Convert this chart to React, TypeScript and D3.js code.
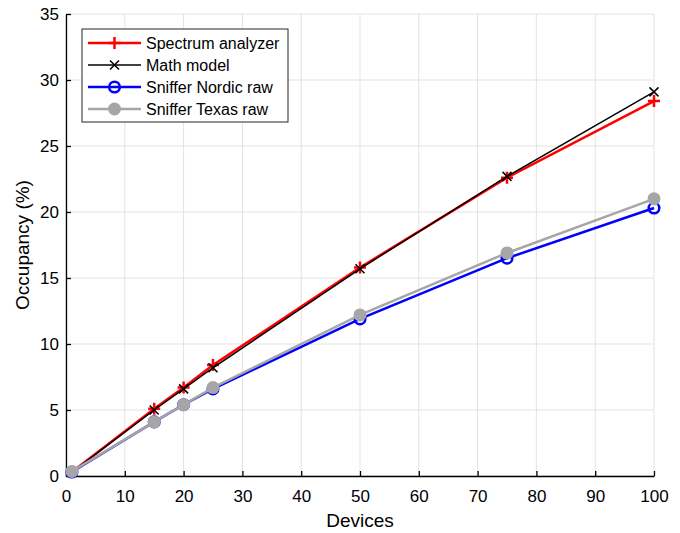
import { useEffect, useRef } from "react";
import * as d3 from "d3";

const devices = [1, 15, 20, 25, 50, 75, 100];
const spectrum = [0.3, 5.1, 6.7, 8.4, 15.8, 22.6, 28.4];
const mathModel = [0.3, 5.0, 6.6, 8.2, 15.7, 22.7, 29.1];
const nordic = [0.3, 4.1, 5.4, 6.6, 11.9, 16.5, 20.3];
const texas = [0.35, 4.1, 5.4, 6.7, 12.2, 16.9, 21.0];
const xTicks = [0, 10, 20, 30, 40, 50, 60, 70, 80, 90, 100];
const yTicks = [0, 5, 10, 15, 20, 25, 30, 35];

const series = [
  { name: "Spectrum analyzer", values: spectrum, color: "#ff0000", width: 2.5, marker: "plus" },
  { name: "Math model", values: mathModel, color: "#000000", width: 1.5, marker: "cross" },
  { name: "Sniffer Nordic raw", values: nordic, color: "#0000ff", width: 2.5, marker: "open" },
  { name: "Sniffer Texas raw", values: texas, color: "#a6a6a6", width: 2.5, marker: "filled" },
];

const W = 680, H = 533;
const m = { left: 66, right: 26, top: 14, bottom: 57 };

export default function App() {
  const ref = useRef<SVGSVGElement>(null);

  useEffect(() => {
    const svg = d3.select(ref.current);
    svg.selectAll("*").remove();
    const x = d3.scaleLinear().domain([0, 100]).range([m.left, W - m.right]);
    const y = d3.scaleLinear().domain([0, 35]).range([H - m.bottom, m.top]);
    const font = "Liberation Sans, Arial, sans-serif";

    svg.append("rect").attr("width", W).attr("height", H).attr("fill", "#fff");

    // grid
    const grid = svg.append("g").attr("stroke", "#e3e3e3").attr("stroke-width", 1);
    xTicks.forEach(t => grid.append("line").attr("x1", x(t)).attr("x2", x(t)).attr("y1", y(0)).attr("y2", y(35)));
    yTicks.forEach(t => grid.append("line").attr("x1", x(0)).attr("x2", x(100)).attr("y1", y(t)).attr("y2", y(t)));

    // axes
    const ax = svg.append("g").attr("transform", `translate(0,${y(0)})`)
      .call(d3.axisBottom(x).tickValues(xTicks).tickSizeInner(-5).tickSizeOuter(0).tickPadding(14));
    const ay = svg.append("g").attr("transform", `translate(${x(0)},0)`)
      .call(d3.axisLeft(y).tickValues(yTicks).tickSizeInner(-5).tickSizeOuter(0).tickPadding(7));
    [ax, ay].forEach(a => {
      a.select(".domain").attr("stroke", "#000").attr("stroke-width", 1.3);
      a.selectAll(".tick line").attr("stroke", "#000").attr("stroke-width", 1.3);
      a.selectAll("text").attr("font-family", font).attr("font-size", 17).attr("fill", "#000");
    });

    svg.append("text").attr("x", x(50)).attr("y", H - 6).attr("text-anchor", "middle")
      .attr("font-family", font).attr("font-size", 19).text("Devices");
    svg.append("text").attr("transform", `translate(29,${y(17.5)}) rotate(-90)`).attr("text-anchor", "middle")
      .attr("font-family", font).attr("font-size", 19).text("Occupancy (%)");

    const drawMarker = (g: any, kind: string, cx: number, cy: number, color: string) => {
      if (kind === "plus") {
        g.append("path").attr("d", `M${cx - 6},${cy}H${cx + 6}M${cx},${cy - 6}V${cy + 6}`)
          .attr("stroke", color).attr("stroke-width", 2.5).attr("fill", "none");
      } else if (kind === "cross") {
        g.append("path").attr("d", `M${cx - 4.5},${cy - 4.5}L${cx + 4.5},${cy + 4.5}M${cx - 4.5},${cy + 4.5}L${cx + 4.5},${cy - 4.5}`)
          .attr("stroke", color).attr("stroke-width", 1.5).attr("fill", "none");
      } else if (kind === "open") {
        g.append("circle").attr("cx", cx).attr("cy", cy).attr("r", 5.3)
          .attr("stroke", color).attr("stroke-width", 2.5).attr("fill", "none");
      } else {
        g.append("circle").attr("cx", cx).attr("cy", cy).attr("r", 6.5).attr("fill", color);
      }
    };

    const line = d3.line<[number, number]>().x(d => x(d[0])).y(d => y(d[1]));
    series.forEach(s => {
      const g = svg.append("g");
      const pts: [number, number][] = devices.map((d, i) => [d, s.values[i]]);
      g.append("path").attr("d", line(pts)).attr("fill", "none")
        .attr("stroke", s.color).attr("stroke-width", s.width);
      pts.forEach(p => drawMarker(g, s.marker, x(p[0]), y(p[1]), s.color));
    });

    // legend
    const lg = svg.append("g").attr("transform", "translate(82,29)");
    lg.append("rect").attr("width", 206).attr("height", 93).attr("fill", "#fff")
      .attr("stroke", "#262626").attr("stroke-width", 1);
    series.forEach((s, i) => {
      const cy = 14 + i * 22;
      lg.append("line").attr("x1", 6).attr("x2", 59).attr("y1", cy).attr("y2", cy)
        .attr("stroke", s.color).attr("stroke-width", s.width);
      drawMarker(lg, s.marker, 32.5, cy, s.color);
      lg.append("text").attr("x", 64).attr("y", cy + 5.5).attr("font-family", font)
        .attr("font-size", 16).attr("fill", "#000").text(s.name);
    });
  }, []);

  return <svg ref={ref} width={W} height={H} style={{ position: "absolute", left: 0, top: 0 }} />;
}
